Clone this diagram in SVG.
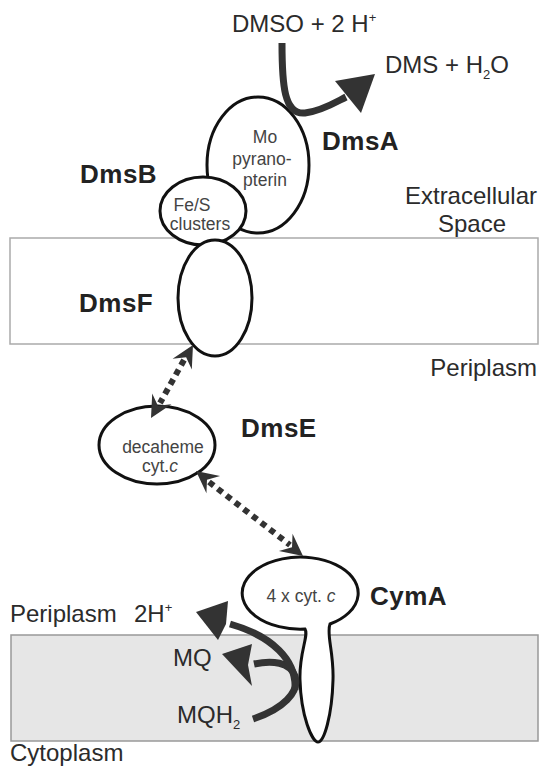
<svg xmlns="http://www.w3.org/2000/svg" width="540" height="767" viewBox="0 0 540 767">
  <style>
    .lbl { font-family: "Liberation Sans", Arial, sans-serif; font-size: 24px; fill: #2b2b2b; }
    .name { font-family: "Liberation Sans", Arial, sans-serif; font-size: 26px; font-weight: bold; fill: #222; letter-spacing: 0.5px; }
    .inner { font-family: "Liberation Sans", Arial, sans-serif; font-size: 17.5px; fill: #444; text-anchor: middle; }
    .prot { fill: #fff; stroke: #111; stroke-width: 3; }
    .flow { fill: none; stroke: #333; stroke-width: 7; }
    .dots { fill: none; stroke: #333; stroke-width: 6; stroke-dasharray: 6 5; }
    .head { fill: #333; }
  </style>
  <defs>
    <!-- notched arrowhead, tip at origin pointing along +x -->
    <path id="barb" d="M0,0 L-22,-11 L-14,0 L-22,11 Z"/>
  </defs>

  <!-- membranes -->
  <rect x="10" y="238" width="528" height="106" fill="#fff" stroke="#aaa" stroke-width="1.5"/>
  <rect x="11" y="635" width="527" height="106" fill="#e6e6e6" stroke="#999" stroke-width="1.5"/>

  <g id="DmsA">
    <ellipse class="prot" cx="258" cy="165" rx="51" ry="68"/>
    <text class="inner" x="265" y="143">Mo</text>
    <text class="inner" x="262" y="165">pyrano-</text>
    <text class="inner" x="265" y="186">pterin</text>
    <text class="name" x="322" y="150">DmsA</text>
  </g>

  <g id="DmsB">
    <ellipse class="prot" cx="203" cy="211" rx="43" ry="34"/>
    <text class="inner" x="192" y="211">Fe/S</text>
    <text class="inner" x="200" y="230">clusters</text>
    <text class="name" x="80" y="183">DmsB</text>
  </g>

  <g id="DmsF">
    <ellipse class="prot" cx="215" cy="298" rx="37" ry="58"/>
    <text class="name" x="79" y="312">DmsF</text>
  </g>

  <g id="DmsE">
    <ellipse class="prot" cx="157" cy="445" rx="58" ry="39"/>
    <text class="inner" x="163" y="453">decaheme</text>
    <text class="inner" x="160" y="472">cyt.<tspan font-style="italic">c</tspan></text>
    <text class="name" x="241" y="437">DmsE</text>
  </g>

  <g id="CymA">
    <path class="prot" d="M305,629 A58,36 0 1 1 330,624 C326,634 334,652 333,680 C332,716 324,742 318,742 C312,742 301,716 300,680 C299,652 309,636 305,629 Z"/>
    <text class="inner" x="301" y="602">4 x cyt. <tspan font-style="italic">c</tspan></text>
    <text class="name" x="370" y="605">CymA</text>
  </g>

  <g id="connectors">
    <!-- DMSO reduction at DmsA -->
    <path class="flow" d="M282,43 C282,85 284,115 305,113 C322,111 336,102 346,97"/>
    <polygon class="head" points="375,74 335,81 348,97 361,113"/>

    <!-- DmsF <-> DmsE -->
    <path class="dots" d="M184,360 L160,403"/>
    <use href="#barb" class="head" transform="translate(193,345) rotate(-60.6)"/>
    <use href="#barb" class="head" transform="translate(151,418) rotate(119.4)"/>

    <!-- DmsE <-> CymA -->
    <path class="dots" d="M209,482 L290,545"/>
    <use href="#barb" class="head" transform="translate(196,471) rotate(-141.7)"/>
    <use href="#barb" class="head" transform="translate(303,556) rotate(38.3)"/>

    <!-- menaquinol oxidation at CymA -->
    <path class="flow" d="M253,719 C283,709 300,692 295,676 C290,662 272,660 254,664"/>
    <polygon class="head" points="222,654 252,644 248,665 252,686"/>
    <path class="flow" d="M295,690 C297,660 272,636 230,624"/>
    <polygon class="head" points="196,612 228,601 226,624 218,640"/>
  </g>

  <!-- compartments and substrates -->
  <text class="lbl" x="232" y="32">DMSO + 2 H<tspan font-size="13" dy="-10">+</tspan></text>
  <text class="lbl" x="385" y="73">DMS + H<tspan font-size="13" dy="6">2</tspan><tspan dy="-6">O</tspan></text>
  <text class="lbl" x="537" y="204" text-anchor="end">Extracellular</text>
  <text class="lbl" x="472" y="232" text-anchor="middle">Space</text>
  <text class="lbl" x="537" y="376" text-anchor="end">Periplasm</text>
  <text class="lbl" x="10" y="622">Periplasm</text>
  <text class="lbl" x="134" y="622">2H<tspan font-size="13" dy="-10">+</tspan></text>
  <text class="lbl" x="173" y="666">MQ</text>
  <text class="lbl" x="177" y="723">MQH<tspan font-size="13" dy="6">2</tspan></text>
  <text class="lbl" x="10" y="761">Cytoplasm</text>
</svg>
